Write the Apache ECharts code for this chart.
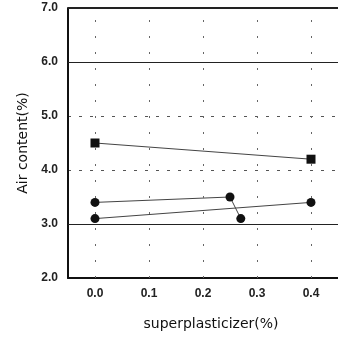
<!DOCTYPE html>
<html><head><meta charset="utf-8">
<script src="https://cdn.jsdelivr.net/npm/echarts@6/dist/echarts.min.js"></script>
<style>html,body{margin:0;padding:0;background:#fff}#c{width:338px;height:340px}</style>
</head><body><div id="c"></div>
<script>
const squareSeries = [[0.0, 4.5], [0.4, 4.2]];
const circleSeriesA = [[0.0, 3.4], [0.25, 3.5], [0.27, 3.1]];
const circleSeriesB = [[0.0, 3.1], [0.4, 3.4]];
const xTicks = [0.0, 0.1, 0.2, 0.3, 0.4];
const solidYLines = [3.0, 6.0, 7.0];
const xName = 'superplasticizer(%)';
const yName = 'Air content(%)';

const chart = echarts.init(document.getElementById('c'));
const lineStyle = {color: '#444', width: 1};
chart.setOption({
  animation: false,
  backgroundColor: '#fff',
  grid: {left: 68, right: -2, top: 8, bottom: 62},
  xAxis: {
    type: 'value', min: -0.05, max: 0.45, position: 'bottom',
    name: xName, nameLocation: 'middle', nameGap: 39,
    nameTextStyle: {fontFamily: 'DejaVu Sans', fontSize: 14, color: '#111', padding: [0, 0, 0, 16]},
    axisLine: {show: true, onZero: false, lineStyle: {color: '#111', width: 2}},
    axisTick: {show: false},
    axisLabel: {customValues: xTicks, formatter: v => v.toFixed(1), margin: 10,
      fontFamily: 'Liberation Sans', fontSize: 12, fontWeight: 'bold', color: '#222'},
    splitLine: {show: false}
  },
  yAxis: {
    type: 'value', min: 2, max: 7, interval: 1, position: 'left',
    name: yName, nameLocation: 'middle', nameGap: 38,
    nameTextStyle: {fontFamily: 'DejaVu Sans', fontSize: 14, color: '#111'},
    axisLine: {show: true, onZero: false, lineStyle: {color: '#111', width: 2}},
    axisTick: {show: false},
    axisLabel: {formatter: v => v.toFixed(1), margin: 10,
      fontFamily: 'Liberation Sans', fontSize: 12, fontWeight: 'bold', color: '#222'},
    splitLine: {show: true, lineStyle: {color: '#555', type: [3, 8], width: 1}}
  },
  series: [
    {type: 'line', data: squareSeries, symbol: 'rect', symbolSize: 9,
      itemStyle: {color: '#111'}, lineStyle: lineStyle,
      markLine: {silent: true, symbol: 'none', label: {show: false},
        data: solidYLines.map(v => ({yAxis: v, lineStyle: {color: '#222', width: v === 7 ? 2 : 1, type: 'solid'}}))
          .concat(xTicks.map(v => ({xAxis: v, lineStyle: {color: '#666', width: 1, type: [2, 14]}})))}},
    {type: 'line', data: circleSeriesA, symbol: 'circle', symbolSize: 9,
      itemStyle: {color: '#111'}, lineStyle: lineStyle},
    {type: 'line', data: circleSeriesB, symbol: 'circle', symbolSize: 9,
      itemStyle: {color: '#111'}, lineStyle: lineStyle}
  ]
});
</script></body></html>
